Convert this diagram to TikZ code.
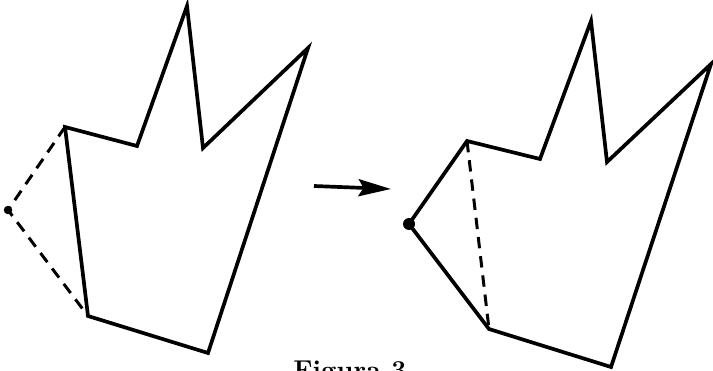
\documentclass[tikz,border=0pt]{standalone}
\usepackage{tikz}
\usetikzlibrary{arrows.meta, positioning, calc}
\tikzstyle{edge} = [line width=2.1pt, line join=miter, color=black]
\tikzstyle{ghost} = [line width=1.7pt, dash pattern=on 6.5pt off 4.5pt, color=black]
\tikzstyle{vertex} = [circle, fill=black, inner sep=0pt, minimum size=2.4mm]
\tikzstyle{arrow} = [line width=2.1pt, -{Stealth[length=6.5mm, width=3.4mm, inset=1mm]}]

\begin{document}
\begin{tikzpicture}[x=0.02cm, y=-0.02cm]
    \useasboundingbox (0,0) rectangle (713,371);

    % Left polygon
    \coordinate (la) at (65,127);
    \coordinate (lb) at (137,146);
    \coordinate (lc) at (187,6);
    \coordinate (ld) at (203,148);
    \coordinate (le) at (308,48);
    \coordinate (lf) at (208,353);
    \coordinate (lg) at (88,316);
    \node (lp) [vertex, minimum size=1.7mm] at (8,210) {};

    \draw [edge] (la) -- (lb) -- (lc) -- (ld) -- (le) -- (lf) -- (lg) -- cycle;
    \draw [ghost] (la) -- (lp.center) -- (lg);

    % Right polygon
    \coordinate (ra) at (467,141);
    \coordinate (rb) at (540,159);
    \coordinate (rc) at (591,21);
    \coordinate (rd) at (607,162);
    \coordinate (re) at (711,64);
    \coordinate (rf) at (611,367);
    \coordinate (rg) at (489,329);
    \node (rp) [vertex] at (409,224) {};

    \draw [edge] (ra) -- (rb) -- (rc) -- (rd) -- (re) -- (rf) -- (rg) -- (rp.center) -- cycle;
    \draw [ghost] (ra) -- (rg);

    % Arrow
    \coordinate (arrs) at (314,186);
    \coordinate (arre) at (391,189);
    \draw [arrow] (arrs) -- (arre);

    % Caption
    \node (caption) [anchor=base, font=\fontsize{15.5}{18}\selectfont\bfseries] at (350,379) {Figura 3};
\end{tikzpicture}
\end{document}
